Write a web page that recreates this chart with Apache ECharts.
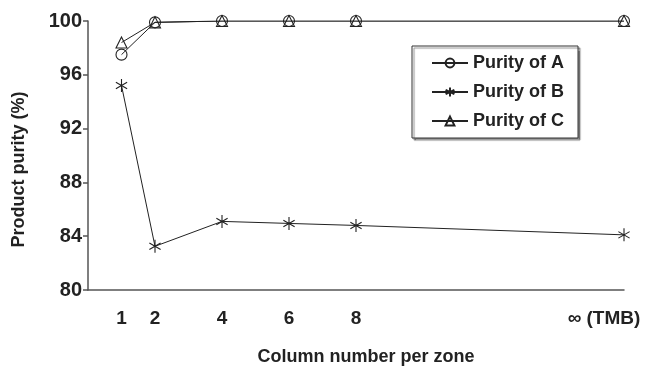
<!DOCTYPE html>
<html>
<head>
<meta charset="utf-8">
<script src="https://cdn.jsdelivr.net/npm/echarts@6/dist/echarts.min.js"></script>
<style>
  html, body { margin: 0; padding: 0; background: #fff; }
  #chart { width: 648px; height: 371px; }
</style>
</head>
<body>
<div id="chart"></div>
<script>
// Column counts per zone; 16 stands for the infinite (TMB) limit at the right end of the axis
const columnNumbers = [1, 2, 4, 6, 8, 16];
const xTickValues = [1, 2, 4, 6, 8, 16];
const xTickLabels = ['1', '2', '4', '6', '8', '∞ (TMB)'];
const yTickValues = [80, 84, 88, 92, 96, 100];

const purityA = [97.5, 99.9, 100, 100, 100, 100];
const purityB = [95.2, 83.25, 85.1, 84.95, 84.8, 84.1];
const purityC = [98.4, 99.9, 100, 100, 100, 100];

const seriesNames = ['Purity of A', 'Purity of B', 'Purity of C'];

const FONT = '"Liberation Sans", Arial, sans-serif';
const INK = '#222';

// six-armed asterisk marker, stroked only
const asterisk = 'path://M0,-1L0,1M-0.866,-0.5L0.866,0.5M-0.866,0.5L0.866,-0.5';

function pairs(values) {
  return columnNumbers.map((x, i) => [x, values[i]]);
}

function lineSeries(name, values, symbol, size) {
  return {
    name: name,
    type: 'line',
    data: pairs(values),
    symbol: symbol,
    symbolSize: size,
    symbolKeepAspect: true,
    showAllSymbol: true,
    lineStyle: { color: INK, width: 1 },
    itemStyle: { color: 'rgba(255,255,255,0)', borderColor: INK, borderWidth: 1.1 },
    emphasis: { disabled: true },
    animation: false
  };
}

const chart = echarts.init(document.getElementById('chart'), null, { renderer: 'canvas' });

chart.setOption({
  backgroundColor: '#fff',
  animation: false,
  grid: { left: 88, right: 24, top: 21, bottom: 73, containLabel: false },
  legend: {
    orient: 'vertical',
    left: 412,
    top: 46,
    data: seriesNames,
    itemWidth: 36,
    itemHeight: 11,
    itemGap: 11,
    padding: [8, 14, 8, 19],
    borderColor: '#333',
    borderWidth: 1,
    shadowColor: 'rgba(0,0,0,0.45)',
    shadowOffsetX: 2,
    shadowOffsetY: 2,
    shadowBlur: 1,
    backgroundColor: '#fff',
    textStyle: { fontFamily: FONT, fontWeight: 'bold', fontSize: 18, color: INK, lineHeight: 18 }
  },
  xAxis: {
    type: 'value',
    min: 0,
    max: 16,
    name: 'Column number per zone',
    nameLocation: 'middle',
    nameGap: 58,
    nameTextStyle: { fontFamily: FONT, fontWeight: 'bold', fontSize: 18, color: INK, padding: [0, 0, 0, 20] },
    axisLine: { show: true, lineStyle: { color: '#555', width: 1.5 } },
    axisTick: { show: false },
    splitLine: { show: false },
    axisLabel: {
      show: true,
      margin: 19,
      fontFamily: FONT,
      fontWeight: 'bold',
      fontSize: 19,
      color: INK,
      customValues: xTickValues,
      formatter: function (v) {
        const i = xTickValues.indexOf(v);
        if (i < 0) return '';
        if (i === xTickValues.length - 1) return '{inf|' + xTickLabels[i] + '}';
        return xTickLabels[i];
      },
      rich: {
        inf: { fontFamily: FONT, fontWeight: 'bold', fontSize: 19, color: INK, padding: [0, 40, 0, 0] }
      }
    }
  },
  yAxis: {
    type: 'value',
    min: 80,
    max: 100,
    interval: 4,
    name: 'Product purity (%)',
    nameLocation: 'middle',
    nameGap: 60,
    nameTextStyle: { fontFamily: FONT, fontWeight: 'bold', fontSize: 18, color: INK, padding: [0, 28, 0, 0] },
    axisLine: { show: true, lineStyle: { color: '#555', width: 1.5 } },
    axisTick: { show: true, inside: false, length: 5, lineStyle: { color: '#555', width: 1.5 } },
    splitLine: { show: false },
    axisLabel: {
      margin: 6,
      fontFamily: FONT,
      fontWeight: 'bold',
      fontSize: 20,
      color: INK,
      formatter: function (v) { return yTickValues.indexOf(v) >= 0 ? String(v) : ''; }
    }
  },
  series: [
    lineSeries(seriesNames[0], purityA, 'circle', 11),
    lineSeries(seriesNames[1], purityB, asterisk, 13),
    lineSeries(seriesNames[2], purityC, 'triangle', 11)
  ]
});
</script>
</body>
</html>
